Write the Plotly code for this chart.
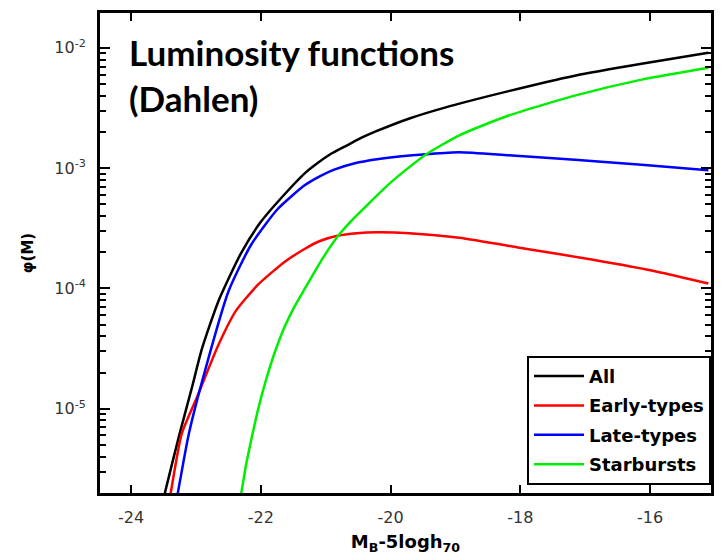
import plotly.graph_objects as go

# ---- data ----
all_M = [-23.57, -23.48, -23.26, -23.06, -22.91, -22.65, -22.30, -22.00, -21.63, -21.32,
         -21.13, -20.93, -20.67, -20.44, -20.21, -19.71, -19.19, -18.18, -17.16, -16.13, -15.10]
all_phi = [1.19e-6, 1.99e-6, 5.98e-6, 1.52e-5, 3.13e-5, 7.96e-5, 1.99e-4, 3.58e-4, 6.10e-4, 9.10e-4,
           1.099e-3, 1.306e-3, 1.549e-3, 1.803e-3, 2.04e-3, 2.59e-3, 3.16e-3, 4.37e-3, 5.87e-3,
           7.38e-3, 9.10e-3]

early_M = [-23.46, -23.39, -23.22, -22.99, -22.65, -22.39, -22.04, -21.63, -21.32, -21.10,
           -20.82, -20.52, -20.21, -19.71, -18.94, -17.92, -16.90, -15.89, -15.10]
early_phi = [1.19e-6, 1.99e-6, 6.21e-6, 1.23e-5, 3.44e-5, 6.46e-5, 1.08e-4, 1.67e-4, 2.14e-4, 2.47e-4,
             2.74e-4, 2.88e-4, 2.93e-4, 2.88e-4, 2.64e-4, 2.14e-4, 1.74e-4, 1.38e-4, 1.10e-4]

late_M = [-23.35, -23.28, -23.11, -22.85, -22.50, -22.15, -21.74, -21.32, -21.10, -20.87,
          -20.55, -20.21, -19.83, -19.45, -18.94, -18.18, -17.16, -16.13, -15.10]
late_phi = [1.19e-6, 1.99e-6, 6.21e-6, 2.18e-5, 9.44e-5, 2.31e-4, 4.58e-4, 7.24e-4, 8.51e-4, 9.73e-4,
            1.099e-3, 1.186e-3, 1.256e-3, 1.306e-3, 1.355e-3, 1.279e-3, 1.175e-3, 1.069e-3, 9.62e-4]

star_M = [-22.38, -22.30, -22.23, -22.15, -22.04, -21.93, -21.78, -21.63, -21.48, -21.32,
          -21.17, -21.02, -20.82, -20.62, -20.36, -20.06, -19.75, -19.45, -18.94, -18.18,
          -17.16, -16.13, -15.10]
star_phi = [1.19e-6, 2.02e-6, 3.38e-6, 5.45e-6, 1.00e-5, 1.67e-5, 3.01e-5, 4.85e-5, 7.10e-5, 1.00e-4,
            1.38e-4, 1.875e-4, 2.69e-4, 3.58e-4, 4.94e-4, 7.10e-4, 9.82e-4, 1.306e-3, 1.875e-3, 2.74e-3,
            4.01e-3, 5.45e-3, 6.84e-3]

series_names = ["All", "Early-types", "Late-types", "Starbursts"]
series_colors = ["#000000", "#ff0000", "#0000ff", "#00ee00"]

x_tickvals = [-24, -22, -20, -18, -16]
x_ticktext = ["-24", "-22", "-20", "-18", "-16"]
y_tickvals = [1e-5, 1e-4, 1e-3, 1e-2]
y_ticktext = ["10<sup>-5</sup>", "10<sup>-4</sup>", "10<sup>-3</sup>", "10<sup>-2</sup>"]

fig = go.Figure()
for name, color, xs, ys in zip(series_names, series_colors,
                               [all_M, early_M, late_M, star_M],
                               [all_phi, early_phi, late_phi, star_phi]):
    fig.add_trace(go.Scatter(x=xs, y=ys, mode="lines", name="<b>" + name + "</b>", legendgroup=name,
                             line=dict(color=color, width=2.5, shape="spline", smoothing=0.6)))

tickfont = dict(family="DejaVu Sans", size=16, color="#333333")
fig.update_xaxes(range=[-24.48, -15.06], tickvals=x_tickvals, ticktext=x_ticktext,
                 ticks="inside", ticklen=8, tickwidth=2, tickcolor="black",
                 showline=True, linewidth=3, linecolor="black", mirror="ticks",
                 showgrid=False, zeroline=False, tickfont=tickfont, ticklabelstandoff=8,
                 title=dict(text="<b>M<sub>B</sub>-5logh<sub>70</sub></b>",
                            font=dict(family="DejaVu Sans", size=18, color="black"),
                            standoff=10))
fig.update_yaxes(type="log", range=[-5.70, -1.71], tickvals=y_tickvals, ticktext=y_ticktext,
                 ticks="inside", ticklen=10, tickwidth=2, tickcolor="black",
                 minor=dict(ticks="inside", ticklen=6, tickwidth=2, tickcolor="black", dtick="D1"),
                 showline=True, linewidth=3, linecolor="black", mirror="ticks",
                 showgrid=False, zeroline=False, tickfont=tickfont, ticklabelstandoff=8,
                 title=dict(text="<b>φ(M)</b>",
                            font=dict(family="DejaVu Sans", size=15, color="black"),
                            standoff=18))

fig.add_annotation(text="<b>Luminosity functions</b>", xref="paper", yref="paper",
                   x=(127 - 100) / 613, y=(493 - 26) / 483, xanchor="left", yanchor="top",
                   showarrow=False, font=dict(family="Lato", size=35, color="black"))
fig.add_annotation(text="<b>(Dahlen)</b>", xref="paper", yref="paper",
                   x=(127 - 100) / 613, y=(493 - 72) / 483, xanchor="left", yanchor="top",
                   showarrow=False, font=dict(family="Lato", size=35, color="black"))

fig.update_layout(
    width=724, height=560,
    margin=dict(l=100, r=11, t=10, b=67),
    paper_bgcolor="white", plot_bgcolor="white",
    showlegend=True,
    legend=dict(x=1.0, xanchor="right", y=0.017, yanchor="bottom",
                bgcolor="white", bordercolor="black", borderwidth=2,
                font=dict(family="DejaVu Sans", size=18, color="black"),
                tracegroupgap=3, itemwidth=50),
)

fig.write_html("out.html")
